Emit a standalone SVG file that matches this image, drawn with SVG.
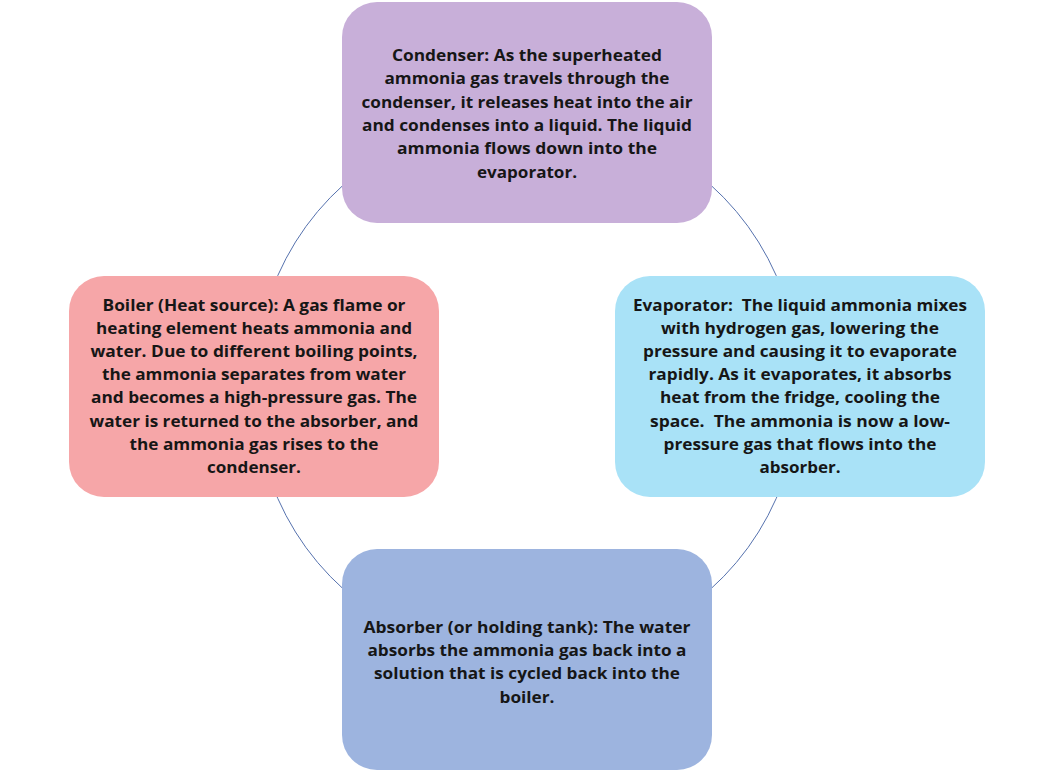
<svg xmlns="http://www.w3.org/2000/svg" width="1053" height="772" viewBox="0 0 1053 772">
  <style>
    .box { stroke: none; }
    .t { font-family: "Open Sans", "Noto Sans", "Liberation Sans", sans-serif; font-weight: 700; font-size: 15.5px; fill: #161616; text-anchor: middle; }
    .arc { fill: none; stroke: #5672AE; stroke-width: 1; }
  </style>
  <rect width="1053" height="772" fill="#ffffff"/>
  <g id="connectors">
    <path class="arc" d="M 358.9,171.9 A 273 273 0 0 0 270.5,293.6"/>
    <path class="arc" d="M 695.1,171.9 A 273 273 0 0 1 783.5,293.6"/>
    <path class="arc" d="M 783.5,480.4 A 273 273 0 0 1 695.1,602.1"/>
    <path class="arc" d="M 358.9,602.1 A 273 273 0 0 1 270.5,480.4"/>
  </g>
  <g id="condenser">
    <rect class="box" x="342" y="2" width="370" height="221" rx="35" ry="35" fill="#C8AFD9"/>
    <text class="t" x="527" y="61" textLength="270" lengthAdjust="spacingAndGlyphs">Condenser: As the superheated</text>
    <text class="t" x="527" y="84.3" textLength="285" lengthAdjust="spacingAndGlyphs">ammonia gas travels through the</text>
    <text class="t" x="527" y="107.6" textLength="331" lengthAdjust="spacingAndGlyphs">condenser, it releases heat into the air</text>
    <text class="t" x="527" y="130.9" textLength="330" lengthAdjust="spacingAndGlyphs">and condenses into a liquid. The liquid</text>
    <text class="t" x="527" y="154.2" textLength="260" lengthAdjust="spacingAndGlyphs">ammonia flows down into the</text>
    <text class="t" x="527" y="177.5" textLength="100" lengthAdjust="spacingAndGlyphs">evaporator.</text>
  </g>
  <g id="boiler">
    <rect class="box" x="69" y="276" width="370" height="221" rx="35" ry="35" fill="#F6A6A8"/>
    <text class="t" x="254" y="311" textLength="303" lengthAdjust="spacingAndGlyphs">Boiler (Heat source): A gas flame or</text>
    <text class="t" x="254" y="334.1" textLength="316" lengthAdjust="spacingAndGlyphs">heating element heats ammonia and</text>
    <text class="t" x="254" y="357.2" textLength="327" lengthAdjust="spacingAndGlyphs">water. Due to different boiling points,</text>
    <text class="t" x="254" y="380.3" textLength="304" lengthAdjust="spacingAndGlyphs">the ammonia separates from water</text>
    <text class="t" x="254" y="403.4" textLength="326" lengthAdjust="spacingAndGlyphs">and becomes a high-pressure gas. The</text>
    <text class="t" x="254" y="426.5" textLength="329" lengthAdjust="spacingAndGlyphs">water is returned to the absorber, and</text>
    <text class="t" x="254" y="449.6" textLength="249" lengthAdjust="spacingAndGlyphs">the ammonia gas rises to the</text>
    <text class="t" x="254" y="472.7" textLength="94" lengthAdjust="spacingAndGlyphs">condenser.</text>
  </g>
  <g id="evaporator">
    <rect class="box" x="615" y="276" width="370" height="221" rx="35" ry="35" fill="#A9E2F7"/>
    <text class="t" x="800" y="311" textLength="334" lengthAdjust="spacingAndGlyphs" xml:space="preserve">Evaporator:  The liquid ammonia mixes</text>
    <text class="t" x="800" y="334.1" textLength="278" lengthAdjust="spacingAndGlyphs">with hydrogen gas, lowering the</text>
    <text class="t" x="800" y="357.2" textLength="314" lengthAdjust="spacingAndGlyphs">pressure and causing it to evaporate</text>
    <text class="t" x="800" y="380.3" textLength="303" lengthAdjust="spacingAndGlyphs">rapidly. As it evaporates, it absorbs</text>
    <text class="t" x="800" y="403.4" textLength="280" lengthAdjust="spacingAndGlyphs">heat from the fridge, cooling the</text>
    <text class="t" x="800" y="426.5" textLength="300" lengthAdjust="spacingAndGlyphs" xml:space="preserve">space.  The ammonia is now a low-</text>
    <text class="t" x="800" y="449.6" textLength="273" lengthAdjust="spacingAndGlyphs">pressure gas that flows into the</text>
    <text class="t" x="800" y="472.7" textLength="81" lengthAdjust="spacingAndGlyphs">absorber.</text>
  </g>
  <g id="absorber">
    <rect class="box" x="342" y="549" width="370" height="221" rx="35" ry="35" fill="#9DB4DF"/>
    <text class="t" x="527" y="633" textLength="327" lengthAdjust="spacingAndGlyphs">Absorber (or holding tank): The water</text>
    <text class="t" x="527" y="656.2" textLength="319" lengthAdjust="spacingAndGlyphs">absorbs the ammonia gas back into a</text>
    <text class="t" x="527" y="679.4" textLength="306" lengthAdjust="spacingAndGlyphs">solution that is cycled back into the</text>
    <text class="t" x="527" y="702.6" textLength="55" lengthAdjust="spacingAndGlyphs">boiler.</text>
  </g>
</svg>
